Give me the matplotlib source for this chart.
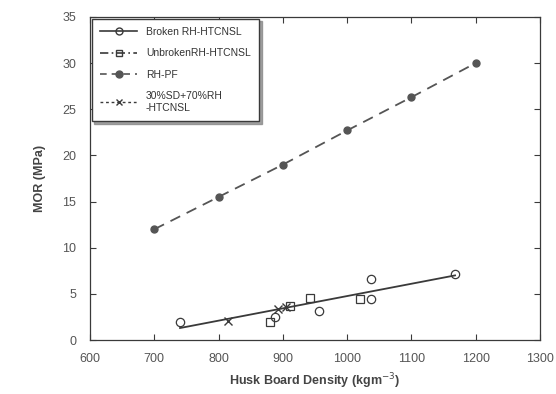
import matplotlib
matplotlib.use("Agg")
import matplotlib.pyplot as plt
from matplotlib.lines import Line2D

plt.rcParams['font.family'] = ['Liberation Sans', 'DejaVu Sans']

# Data
pf_x = [700, 800, 900, 1000, 1100, 1200]
pf_y = [12.0, 15.5, 19.0, 22.7, 26.3, 30.0]

broken_x = [740, 888, 957, 1037, 1037, 1168]
broken_y = [1.9, 2.5, 3.1, 6.6, 4.4, 7.2]

unbroken_x = [880, 911, 943, 1020]
unbroken_y = [1.9, 3.7, 4.5, 4.4]

sd_x = [814, 893, 905]
sd_y = [2.1, 3.4, 3.6]

fit_x = [740, 1168]
fit_y = [1.3, 7.0]

xticks = [600, 700, 800, 900, 1000, 1100, 1200, 1300]
yticks = [0, 5, 10, 15, 20, 25, 30, 35]

col = '#3a3a3a'
fig = plt.figure(figsize=(5.56, 3.94), dpi=100)
ax = fig.add_axes([0.162, 0.137, 0.809, 0.820])

ax.plot(pf_x, pf_y, linestyle=(0, (6, 4)), color='#555555', lw=1.3,
        marker='o', markersize=5, markerfacecolor='#555555', markeredgecolor='#555555')
ax.plot(fit_x, fit_y, '-', color=col, lw=1.3)
ax.plot(broken_x, broken_y, 'o', markersize=6, markerfacecolor='none', markeredgecolor=col, mew=0.9)
ax.plot(unbroken_x, unbroken_y, 's', markersize=6, markerfacecolor='none', markeredgecolor=col, mew=0.9)
ax.plot(sd_x, sd_y, 'x', markersize=6, color=col, mew=1.0)

ax.set_xlim(600, 1300)
ax.set_ylim(0, 35)
ax.set_xticks(xticks)
ax.set_yticks(yticks)
ax.tick_params(direction='in', top=True, right=True, length=4, width=0.8,
               labelsize=9, labelcolor='#555555', color=col)
ax.tick_params(axis='x', pad=9)
ax.tick_params(axis='y', pad=10)
for s in ax.spines.values():
    s.set_color(col)
    s.set_linewidth(0.9)

ax.set_xlabel('Husk Board Density (kgm$^{-3}$)', fontsize=9, fontweight='bold', color='#444444', labelpad=5)
ax.set_ylabel('MOR (MPa)', fontsize=9, fontweight='bold', color='#444444', labelpad=12)

handles = [
    Line2D([], [], color=col, lw=1.2, marker='o', markerfacecolor='none', markersize=5),
    Line2D([], [], color=col, lw=1.2, linestyle=(0, (5, 2, 1, 2)), marker='s', markerfacecolor='none', markersize=5),
    Line2D([], [], color='#555555', lw=1.2, linestyle=(0, (4, 3)), marker='o', markerfacecolor='#555555', markersize=5),
    Line2D([], [], color=col, lw=1.0, linestyle=(0, (2, 2)), marker='x', markersize=5),
]
labels = ['Broken RH-HTCNSL', 'UnbrokenRH-HTCNSL', 'RH-PF', '30%SD+70%RH\n-HTCNSL']
leg = ax.legend(handles, labels, loc='upper left', fontsize=7.5, frameon=True, shadow={'color': '#888888', 'alpha': 0.8},
                fancybox=False, edgecolor=col, handlelength=3.6, labelspacing=1.1,
                borderaxespad=0.15, borderpad=0.8, bbox_to_anchor=(0.0, 1.0))
for t in leg.get_texts():
    t.set_color('#333333')

fig.savefig('out.png', dpi=100)
